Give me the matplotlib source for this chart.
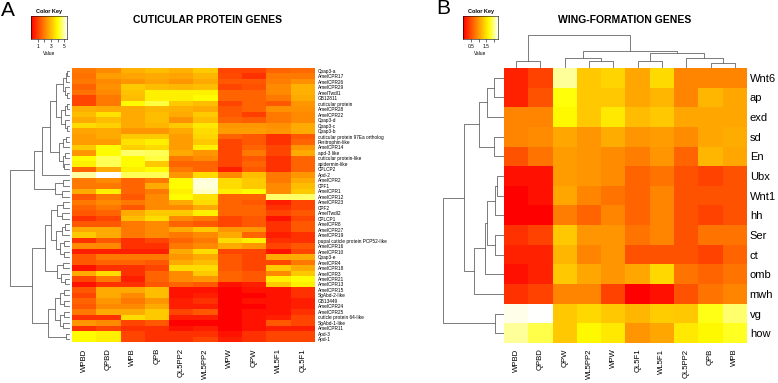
import numpy as np
import matplotlib
matplotlib.use("Agg")
import matplotlib.pyplot as plt
from matplotlib.colors import ListedColormap, hsv_to_rgb

plt.rcParams['font.family'] = ['Liberation Sans', 'DejaVu Sans']

# ---------------- data : panel A (cuticular protein genes) ----------------
a_cols = ["WPBD", "QPBD", "WPB", "QPB", "QL5PP2", "WL5PP2", "WPW", "QPW", "WL5F1", "QL5F1"]
a_rows = ["Cpap3-a", "AmelCPR17", "AmelCPR26", "AmelCPR29", "AmelTwdl1", "GB12811",
          "cuticular protein", "AmelCPR28", "AmelCPR22", "Cpap3-d", "Cpap3-c", "Cpap3-b",
          "cuticular protein 97Ea ortholog", "Peritrophin-like", "AmelCPR14", "apd-3 like",
          "cuticular protein-like", "apidermin-like", "CPLCP2", "Apd-2", "AmelCPR2", "CPF1",
          "AmelCPR1", "AmelCPR12", "AmelCPR23", "CPF2", "AmelTwdl2", "CPLCP1", "AmelCPR8",
          "AmelCPR27", "AmelCPR19", "pupal cuticle protein PCP52-like", "AmelCPR16",
          "AmelCPR10", "Cpap3-e", "AmelCPR4", "AmelCPR18", "AmelCPR3", "AmelCPR21",
          "AmelCPR13", "AmelCPR15", "SgAbd-2-like", "GB13449", "AmelCPR24", "AmelCPR25",
          "cuticle protein 64-like", "SgAbd-1-like", "AmelCPR11", "Apd-3", "Apd-1"]
a_vals = [
    [1.9, 2.2, 2.8, 3.0, 2.8, 3.2, 1.1, 1.1, 1.6, 1.7],
    [1.8, 2.5, 2.6, 2.7, 2.6, 2.9, 1.2, 0.8, 1.9, 1.9],
    [1.9, 2.2, 2.4, 2.6, 2.4, 2.7, 1.4, 1.4, 2.0, 2.3],
    [1.6, 2.3, 3.2, 3.0, 2.9, 3.0, 1.1, 1.3, 2.2, 2.8],
    [1.8, 2.2, 3.1, 3.8, 3.8, 3.8, 1.6, 1.6, 2.2, 2.8],
    [1.1, 1.9, 3.0, 3.8, 3.8, 4.0, 1.6, 1.6, 1.9, 2.7],
    [1.1, 1.9, 4.0, 4.4, 3.2, 3.0, 1.1, 1.6, 1.4, 2.4],
    [2.8, 2.7, 2.7, 2.9, 2.8, 2.7, 1.4, 1.6, 2.3, 2.3],
    [3.0, 3.6, 2.7, 3.0, 2.7, 3.2, 1.4, 1.0, 1.9, 2.2],
    [2.7, 3.0, 2.7, 3.0, 2.3, 3.0, 1.6, 1.5, 1.9, 2.2],
    [3.5, 3.3, 2.7, 2.9, 3.2, 3.7, 2.4, 2.4, 2.3, 2.7],
    [2.6, 2.7, 2.4, 2.4, 2.7, 3.5, 2.5, 2.5, 2.4, 2.7],
    [2.5, 2.7, 3.2, 3.2, 2.5, 3.4, 1.6, 1.4, 0.8, 1.4],
    [2.5, 2.5, 3.6, 3.8, 2.5, 3.2, 1.1, 1.4, 0.8, 1.6],
    [3.2, 4.0, 3.3, 3.5, 2.5, 3.8, 1.1, 1.6, 1.1, 2.4],
    [2.4, 4.0, 4.6, 4.5, 2.7, 2.4, 1.1, 1.9, 1.1, 2.7],
    [4.0, 4.5, 4.0, 4.4, 1.9, 2.2, 1.1, 1.4, 0.8, 1.6],
    [3.8, 4.5, 4.0, 3.2, 1.6, 1.6, 1.1, 1.6, 0.8, 1.6],
    [1.6, 2.7, 3.8, 4.0, 1.9, 1.6, 0.5, 1.4, 0.8, 1.6],
    [4.9, 5.4, 4.5, 4.5, 2.4, 3.5, 2.2, 3.0, 1.9, 2.4],
    [1.9, 2.2, 1.6, 1.9, 4.0, 5.2, 3.5, 3.2, 1.9, 2.7],
    [1.9, 1.9, 1.6, 2.7, 4.0, 5.2, 3.5, 3.2, 2.2, 3.0],
    [2.7, 3.8, 1.6, 1.9, 3.8, 5.1, 3.8, 4.0, 2.2, 3.2],
    [1.4, 1.9, 1.4, 2.2, 4.0, 3.6, 1.6, 1.6, 4.6, 4.6],
    [1.9, 2.2, 1.9, 2.2, 2.7, 3.5, 1.6, 1.4, 0.5, 1.1],
    [1.6, 1.9, 1.4, 2.2, 2.2, 2.7, 1.6, 1.6, 0.8, 1.1],
    [1.4, 1.6, 2.7, 3.2, 3.2, 3.8, 1.6, 1.6, 1.1, 1.4],
    [0.8, 1.1, 3.0, 3.5, 2.2, 1.9, 1.1, 1.4, 0.3, 1.1],
    [1.4, 1.4, 1.9, 2.2, 1.6, 1.4, 1.1, 1.4, 0.8, 1.4],
    [2.7, 2.7, 1.9, 2.2, 2.7, 3.2, 2.4, 2.4, 0.8, 1.4],
    [3.2, 2.7, 1.9, 2.2, 1.9, 2.2, 2.7, 1.6, 0.5, 0.8],
    [0.8, 1.4, 0.8, 1.1, 1.6, 1.9, 3.5, 3.8, 0.8, 0.8],
    [2.2, 2.2, 0.8, 0.8, 1.9, 2.2, 2.7, 2.4, 1.1, 1.4],
    [0.5, 0.5, 0.5, 0.5, 2.7, 3.5, 1.1, 1.1, 0.3, 1.1],
    [1.4, 1.9, 1.9, 1.9, 2.4, 2.7, 1.4, 1.1, 2.7, 2.7],
    [1.4, 1.6, 1.6, 1.4, 2.7, 3.0, 1.4, 1.1, 1.1, 1.9],
    [0.3, 0.8, 0.8, 1.1, 3.5, 3.5, 1.4, 1.1, 3.2, 2.7],
    [2.7, 3.5, 0.8, 1.6, 2.2, 3.2, 1.6, 1.4, 2.2, 3.2],
    [1.1, 1.9, 0.5, 1.6, 2.2, 2.4, 1.6, 1.4, 3.8, 4.0],
    [0.3, 0.8, 0.8, 1.4, 1.6, 1.4, 0.3, 0.5, 3.2, 3.8],
    [1.4, 2.7, 2.7, 3.0, 0.3, 0.3, 0.0, 0.3, 0.3, 0.8],
    [1.1, 2.7, 2.2, 3.0, 0.3, 0.5, 0.0, 0.0, 0.3, 0.8],
    [1.6, 2.4, 1.9, 2.4, 0.5, 0.8, 0.0, 0.3, 0.3, 0.5],
    [1.4, 2.2, 2.2, 2.7, 0.5, 0.5, 0.0, 0.0, 0.3, 0.5],
    [1.9, 2.7, 2.7, 3.2, 1.1, 1.4, 0.0, 0.3, 0.3, 0.8],
    [0.8, 0.8, 3.5, 3.2, 0.5, 0.5, 0.0, 0.3, 0.5, 1.1],
    [2.4, 2.2, 1.1, 1.4, 0.0, 0.0, 0.0, 0.3, 1.4, 1.1],
    [0.8, 1.1, 0.8, 0.8, 0.3, 0.5, 0.0, 0.3, 0.5, 0.5],
    [4.0, 3.8, 1.1, 0.8, 0.8, 0.8, 0.3, 0.8, 1.1, 1.1],
    [4.0, 3.8, 1.1, 0.8, 0.8, 1.1, 0.5, 0.8, 1.1, 1.1],
]
# row dendrogram: [height, left, right], leaves = row index
a_row_tree = [10,
              [6.0,
               [4.5,
                [3.2,
                 [2.2, [1.0, [0.5, [0.3, 0, 1], 2], [0.6, 3, [0.3, 4, 5]]],
                       [1.3, [0.7, [0.4, 6, 7], 8], [0.6, 9, [0.4, 10, 11]]]],
                 [1.7, [1.0, [0.5, 12, 13], 14], [1.1, [0.6, 15, 16], [0.8, 17, 18]]]],
                19],
               [2.3, [1.0, 20, 21], [1.2, 22, 23]]],
              [6.3,
               [4.0,
                [3.0, [2.0, [1.0, 24, 25], [1.2, 26, 27]],
                      [2.2, [1.2, [0.6, 28, 29], 30], [1.5, [0.8, 31, 32], [0.9, 33, 34]]]],
                [2.0, [1.0, 35, 36], [1.3, 37, [0.7, 38, 39]]]],
               [3.5,
                [2.4, [1.5, [0.8, 40, 41], [0.9, 42, 43]], [1.6, [0.9, 44, 45], [1.0, 46, 47]]],
                [0.5, 48, 49]]]]

# ---------------- data : panel B (wing-formation genes) ----------------
b_cols = ["WPBD", "QPBD", "QPW", "WL5PP2", "WPW", "QL5F1", "WL5F1", "QL5PP2", "QPB", "WPB"]
b_rows = ["Wnt6", "ap", "exd", "sd", "En", "Ubx", "Wnt1", "hh", "Ser", "ct", "omb", "mwh", "vg", "how"]
b_vals = [
    [0.22, 0.44, 2.03, 1.32, 1.40, 1.10, 1.45, 0.88, 0.88, 0.88],
    [0.22, 0.55, 1.71, 1.32, 1.32, 1.10, 1.21, 0.88, 1.21, 1.10],
    [0.88, 0.88, 1.65, 1.32, 1.54, 1.24, 1.32, 1.10, 1.10, 1.10],
    [0.88, 0.93, 1.10, 0.99, 1.14, 0.99, 1.04, 0.93, 1.10, 1.14],
    [0.55, 0.77, 1.04, 0.99, 0.93, 0.83, 0.99, 0.66, 1.21, 1.10],
    [0.11, 0.11, 1.04, 0.99, 0.93, 0.66, 0.77, 0.55, 0.44, 0.55],
    [0.00, 0.11, 1.10, 0.88, 0.77, 0.66, 0.88, 0.55, 0.55, 0.55],
    [0.00, 0.00, 0.83, 0.66, 0.88, 0.66, 0.88, 0.55, 0.44, 0.55],
    [0.33, 0.44, 1.32, 0.99, 0.99, 0.77, 0.88, 0.55, 0.77, 0.77],
    [0.22, 0.22, 1.21, 0.88, 0.99, 0.55, 0.55, 0.55, 0.44, 0.66],
    [0.11, 0.22, 1.32, 1.10, 0.99, 1.10, 1.43, 0.77, 0.66, 0.77],
    [0.33, 0.44, 0.88, 0.88, 0.44, 0.00, 0.11, 0.55, 0.77, 0.88],
    [2.20, 2.25, 1.32, 1.43, 1.32, 1.21, 1.35, 1.32, 1.74, 1.93],
    [2.03, 1.85, 1.32, 1.65, 1.54, 0.99, 1.10, 1.54, 1.65, 1.76],
]
b_row_tree = [60,
              [39,
               [24, [16, [9, 0, 1], 2], [9, 3, 4]],
               [29, [18, [16, [8, [6, 5, 6], 7], [8, 8, 9]], 10], 11]],
              [8, 12, 13]]
b_col_tree = [33, [6, 0, 1],
              [17, [9, 2, [6, 3, 4]],
                   [14, [6, 5, 6], [9, 7, [4, 8, 9]]]]]


# R-like heat.colors
def heat_colors(n=256):
    j = n // 4
    i = n - j
    h1 = np.linspace(0, 1 / 6, i)
    part1 = np.column_stack([h1, np.ones(i), np.ones(i)])
    s2 = np.linspace(1 - 1 / (2 * j), 1 / (2 * j), j)
    part2 = np.column_stack([np.full(j, 1 / 6), s2, np.ones(j)])
    return ListedColormap(hsv_to_rgb(np.vstack([part1, part2])))


cmap = heat_colors()
W, H = 778, 383
fig = plt.figure(figsize=(W / 100, H / 100), dpi=100)


def box(x0, y0, x1, y1):
    return fig.add_axes([x0 / W, 1 - y1 / H, (x1 - x0) / W, (y1 - y0) / H])


def draw_tree(ax, node, side):
    if isinstance(node, int):
        return node, 0
    h, left, right = node
    p1, h1 = draw_tree(ax, left, side)
    p2, h2 = draw_tree(ax, right, side)
    pos = [p1, p1, p2, p2]
    hts = [h1, h, h, h2]
    if side == "row":
        ax.plot(hts, pos, color="#666666", lw=0.6, clip_on=False)
    else:
        ax.plot(pos, hts, color="#666666", lw=0.6, clip_on=False)
    return (p1 + p2) / 2, h


def heatmap(ax, vals, rows, cols, vmax, rfs, cfs, cpad):
    ax.imshow(np.array(vals), cmap=cmap, vmin=0, vmax=vmax, aspect="auto", interpolation="nearest")
    ax.yaxis.tick_right()
    ax.set_yticks(range(len(rows)))
    ax.set_yticklabels(rows, fontsize=rfs)
    ax.set_xticks(range(len(cols)))
    ax.set_xticklabels(cols, fontsize=cfs, rotation=90)
    ax.tick_params(length=0, pad=cpad, axis="x")
    ax.tick_params(length=0, pad=2, axis="y")
    for s in ax.spines.values():
        s.set_visible(False)


def color_key(ax, vmax, ticks, labels):
    ax.imshow(np.linspace(0, vmax, 256)[None, :], cmap=cmap, aspect="auto",
              extent=[0, vmax, 0, 1])
    ax.set_yticks([])
    ax.set_xticks(ticks)
    ax.set_xticklabels(labels, fontsize=3.5)
    ax.tick_params(axis="x", length=2, width=0.4, pad=1.5)
    for s in ax.spines.values():
        s.set_linewidth(0.4)
    ax.set_title("Color Key", fontsize=4, fontweight="bold", pad=2)
    ax.set_xlabel("Value", fontsize=3.5, labelpad=1.5)


# ---------------- panel A ----------------
axA = box(72, 68, 315, 342)
heatmap(axA, a_vals, a_rows, a_cols, 5.4, 3.4, 5.6, 4.5)

axAd = box(10, 68, 69, 342)
draw_tree(axAd, a_row_tree, "row")
axAd.set_xlim(a_row_tree[0], 0)
axAd.set_ylim(len(a_rows) - 0.5, -0.5)
axAd.axis("off")

keyA = box(31, 16, 67, 39)
color_key(keyA, 5.4, [1, 2, 3, 4, 5], ["1", "", "3", "", "5"])

fig.text(8 / W, 1 - 11 / H, "A", fontsize=15, va="center", ha="center")
fig.text(208 / W, 1 - 20 / H, "CUTICULAR PROTEIN GENES", fontsize=7.5,
         fontweight="bold", ha="center", va="center")

# ---------------- panel B ----------------
axB = box(504, 68, 747, 343)
heatmap(axB, b_vals, b_rows, b_cols, 2.25, 8, 5.6, 4)

axBr = box(443, 68, 503, 343)
draw_tree(axBr, b_row_tree, "row")
axBr.set_xlim(b_row_tree[0], 0)
axBr.set_ylim(len(b_rows) - 0.5, -0.5)
axBr.axis("off")

axBc = box(504, 35, 747, 67)
draw_tree(axBc, b_col_tree, "col")
axBc.set_ylim(0, b_col_tree[0])
axBc.set_xlim(-0.5, len(b_cols) - 0.5)
axBc.axis("off")

keyB = box(463, 16, 498, 39)
color_key(keyB, 2.25, [0.5, 1.0, 1.5, 2.0], ["0.5", "", "1.5", ""])

fig.text(443 / W, 1 - 9 / H, "B", fontsize=15, va="center", ha="center")
fig.text(625 / W, 1 - 20 / H, "WING-FORMATION GENES", fontsize=7.5,
         fontweight="bold", ha="center", va="center")

fig.savefig("out.png", dpi=100)
